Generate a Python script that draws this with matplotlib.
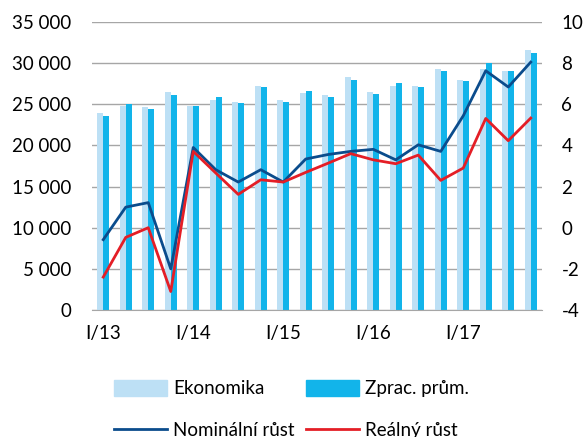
import matplotlib.pyplot as plt
from matplotlib.patches import Patch
from matplotlib.lines import Line2D
from matplotlib.ticker import FuncFormatter
import numpy as np

plt.rcParams["font.family"] = ["Lato", "DejaVu Sans"]
plt.rcParams["axes.unicode_minus"] = False

quarters = ["I/13", "II/13", "III/13", "IV/13",
            "I/14", "II/14", "III/14", "IV/14",
            "I/15", "II/15", "III/15", "IV/15",
            "I/16", "II/16", "III/16", "IV/16",
            "I/17", "II/17", "III/17", "IV/17"]

ekonomika = [24000, 24800, 24700, 26500, 24850, 25550, 25270, 27200, 25500, 26370,
             26100, 28300, 26500, 27260, 27200, 29300, 27900, 29300, 29100, 31600]
zprac_prum = [23600, 25000, 24400, 26100, 24750, 25850, 25150, 27100, 25270, 26600,
              25900, 28000, 26300, 27600, 27050, 29100, 27870, 30000, 29000, 31270]

nominalni = [-0.58, 1.0, 1.22, -2.0, 3.9, 2.82, 2.22, 2.82, 2.22, 3.34,
             3.56, 3.71, 3.81, 3.3, 4.03, 3.71, 5.44, 7.63, 6.84, 8.05]
realny = [-2.4, -0.47, 0.0, -3.1, 3.71, 2.66, 1.62, 2.33, 2.22, 2.69,
          3.14, 3.6, 3.3, 3.11, 3.53, 2.3, 2.9, 5.31, 4.23, 5.33]

c_ek = "#BDE0F5"
c_zp = "#12B4EA"
c_nom = "#0B4C8C"
c_real = "#E41E26"
c_grid = "#A6A6A6"
fs = 13.5

fig = plt.figure(figsize=(5.84, 4.37), dpi=100)
ax = fig.add_axes([92 / 584, 1 - 310 / 437, 450 / 584, 288 / 437])
ax2 = ax.twinx()

x = np.arange(len(quarters))
w = 0.26
ax.bar(x - w / 2, ekonomika, width=w, color=c_ek, zorder=2)
ax.bar(x + w / 2, zprac_prum, width=w, color=c_zp, zorder=2)

ax2.plot(x, nominalni, color=c_nom, lw=2.0)
ax2.plot(x, realny, color=c_real, lw=2.0)

ax.set_xlim(-0.5, len(quarters) - 0.5)
ax.set_ylim(0, 35000)
ax2.set_ylim(-4, 10)
ax.set_yticks(np.arange(0, 35001, 5000))
ax2.set_yticks(np.arange(-4, 11, 2))
ax.yaxis.set_major_formatter(FuncFormatter(lambda v, p: f"{int(v):,}".replace(",", " ")))

ax.set_xticks(x[::4])
ax.set_xticklabels(quarters[::4])

ax.grid(axis="y", color=c_grid, lw=1, zorder=0)
for a in (ax, ax2):
    for s in a.spines.values():
        s.set_visible(False)
    a.tick_params(length=0, labelsize=fs, colors="#000000")
ax.spines["bottom"].set_visible(True)
ax.spines["bottom"].set_color(c_grid)
ax.tick_params(axis="y", pad=15)
ax.tick_params(axis="x", pad=11)
ax2.tick_params(axis="y", pad=14)

leg_kw = dict(loc="upper left", frameon=False, fontsize=fs, handlelength=2.8,
              handleheight=0.9, labelspacing=1.33, handletextpad=0.35, borderpad=0,
              borderaxespad=0)
leg1 = fig.legend([Patch(color=c_ek), Line2D([], [], color=c_nom, lw=2.0)],
                  ["Ekonomika", "Nominální růst"],
                  bbox_to_anchor=(114 / 584, 1 - 380 / 437), **leg_kw)
leg2 = fig.legend([Patch(color=c_zp), Line2D([], [], color=c_real, lw=2.0)],
                  ["Zprac. prům.", "Reálný růst"],
                  bbox_to_anchor=(306 / 584, 1 - 380 / 437), **leg_kw)

fig.savefig("out.png", dpi=100)
